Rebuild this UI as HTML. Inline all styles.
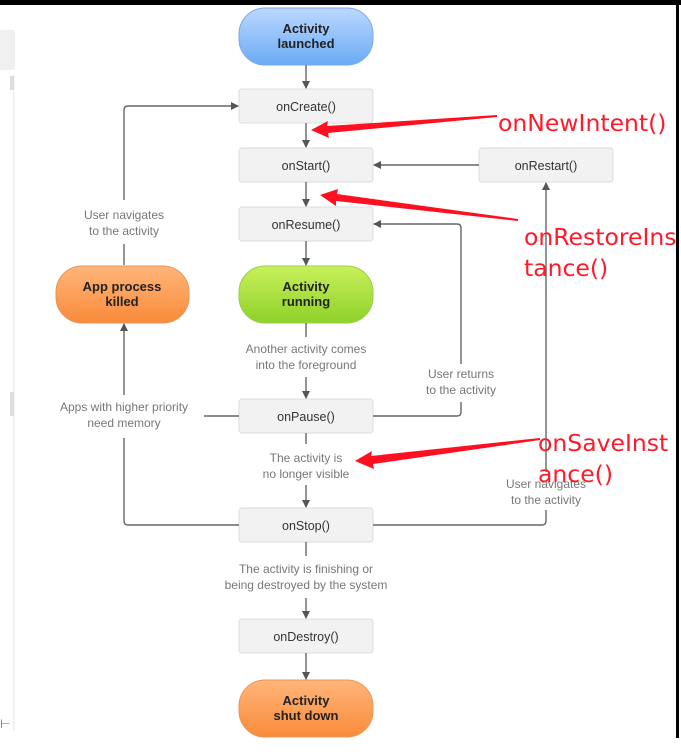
<!DOCTYPE html>
<html><head><meta charset="utf-8"><style>
html,body{margin:0;padding:0;background:#fff;width:681px;height:755px;overflow:hidden}
svg{display:block}
.b{fill:#f2f2f2;stroke:#dcdcdc;stroke-width:1}
.t{font-family:"Liberation Sans",sans-serif;font-size:12.5px;fill:#333;text-anchor:middle}
.g{font-family:"Liberation Sans",sans-serif;font-size:12px;fill:#777;text-anchor:middle}
.p{font-family:"Liberation Sans",sans-serif;font-size:13px;font-weight:bold;fill:#222;text-anchor:middle}
.l{fill:none;stroke:#666;stroke-width:1.4}
.r{font-family:"DejaVu Sans",sans-serif;font-size:23.5px;fill:#ff1a2a}
</style></head><body>
<svg width="681" height="755" viewBox="0 0 681 755">
<defs>
<marker id="a" markerWidth="8" markerHeight="8" refX="7" refY="4" orient="auto" markerUnits="userSpaceOnUse"><path d="M0,0 L8,4 L0,8 z" fill="#555"/></marker>
<linearGradient id="blue" x1="0" y1="0" x2="0" y2="1"><stop offset="0" stop-color="#bcd9ff"/><stop offset="1" stop-color="#6aaaf5"/></linearGradient>
<linearGradient id="green" x1="0" y1="0" x2="0" y2="1"><stop offset="0" stop-color="#c8f05a"/><stop offset="1" stop-color="#8fd12a"/></linearGradient>
<linearGradient id="orange" x1="0" y1="0" x2="0" y2="1"><stop offset="0" stop-color="#ffb57a"/><stop offset="1" stop-color="#f98b3a"/></linearGradient>
</defs>
<rect x="0" y="0" width="681" height="5" fill="#000"/>
<rect x="676" y="0" width="3" height="738" fill="#000"/>
<rect x="0" y="30" width="15" height="40" fill="#f0f0f0"/>
<rect x="13" y="75" width="1.5" height="655" fill="#eee"/>
<rect x="10" y="76" width="4" height="14" fill="#ddd"/>
<rect x="10" y="392" width="4" height="24" fill="#ddd"/>
<text x="0" y="728" font-family="Liberation Sans" font-size="12" fill="#666">⊢</text>

<rect x="239" y="8" width="134" height="57" rx="26" fill="url(#blue)" stroke="#7aaae8"/>
<text class="p" x="306" y="33">Activity</text><text class="p" x="306" y="48">launched</text>
<rect x="239" y="266" width="134" height="57" rx="26" fill="url(#green)" stroke="#9ccc50"/>
<text class="p" x="306" y="291">Activity</text><text class="p" x="306" y="306">running</text>
<rect x="56" y="266" width="133" height="57" rx="26" fill="url(#orange)" stroke="#e8955a"/>
<text class="p" x="122" y="291">App process</text><text class="p" x="122" y="306">killed</text>
<rect x="239" y="680" width="134" height="57" rx="26" fill="url(#orange)" stroke="#e8955a"/>
<text class="p" x="306" y="705">Activity</text><text class="p" x="306" y="720">shut down</text>

<rect class="b" x="239" y="89" width="134" height="34" rx="3"/><text class="t" x="306" y="111">onCreate()</text>
<rect class="b" x="239" y="148" width="134" height="34" rx="3"/><text class="t" x="306" y="170">onStart()</text>
<rect class="b" x="239" y="207" width="134" height="34" rx="3"/><text class="t" x="306" y="229">onResume()</text>
<rect class="b" x="479" y="148" width="134" height="34" rx="3"/><text class="t" x="546" y="170">onRestart()</text>
<rect class="b" x="239" y="399" width="134" height="34" rx="3"/><text class="t" x="306" y="421">onPause()</text>
<rect class="b" x="239" y="508" width="134" height="34" rx="3"/><text class="t" x="306" y="530">onStop()</text>
<rect class="b" x="239" y="619" width="134" height="34" rx="3"/><text class="t" x="306" y="641">onDestroy()</text>

<path class="l" d="M306 65 V88" marker-end="url(#a)"/>
<path class="l" d="M306 123 V147" marker-end="url(#a)"/>
<path class="l" d="M306 182 V206" marker-end="url(#a)"/>
<path class="l" d="M306 241 V265" marker-end="url(#a)"/>
<path class="l" d="M306 323 V337"/>
<path class="l" d="M306 377 V398" marker-end="url(#a)"/>
<path class="l" d="M306 433 V444"/>
<path class="l" d="M306 485 V507" marker-end="url(#a)"/>
<path class="l" d="M306 542 V556"/>
<path class="l" d="M306 598 V618" marker-end="url(#a)"/>
<path class="l" d="M306 653 V679" marker-end="url(#a)"/>

<text class="g" x="306" y="353">Another activity comes</text><text class="g" x="306" y="369">into the foreground</text>
<text class="g" x="306" y="462">The activity is</text><text class="g" x="306" y="478">no longer visible</text>
<text class="g" x="306" y="573">The activity is finishing or</text><text class="g" x="306" y="589">being destroyed by the system</text>

<path class="l" d="M124 200 V110 Q124 106 128 106 H238" marker-end="url(#a)"/>
<text class="g" x="124" y="219">User navigates</text><text class="g" x="124" y="235">to the activity</text>
<path class="l" d="M124 244 V265"/>
<path class="l" d="M124 395 V324" marker-end="url(#a)"/>
<text class="g" x="124" y="411">Apps with higher priority</text><text class="g" x="124" y="427">need memory</text>
<path class="l" d="M204 416 H239"/>
<path class="l" d="M124 438 V521 Q124 525 128 525 H239"/>

<path class="l" d="M479 165 H374" marker-end="url(#a)"/>
<path class="l" d="M373 416 H457 Q461 416 461 412 V402"/>
<text class="g" x="461" y="378">User returns</text><text class="g" x="461" y="394">to the activity</text>
<path class="l" d="M461 364 V228 Q461 224 457 224 H374" marker-end="url(#a)"/>
<path class="l" d="M373 525 H542 Q546 525 546 521 V510"/>
<text class="g" x="546" y="488">User navigates</text><text class="g" x="546" y="504">to the activity</text>
<path class="l" d="M546 472 V183" marker-end="url(#a)"/>

<polygon points="311,130 328,121 327,126 497,115 497,117 328,133 329,138" fill="#ff1020"/>
<polygon points="320,195 338,189 337,194 518,219 518,221 336,201 336,206" fill="#ff1020"/>
<polygon points="355,461 372,451 371,456 540,438 540,440 373,464 374,469" fill="#ff1020"/>
<text class="r" x="498" y="131">onNewIntent()</text>
<text class="r" x="524" y="245">onRestoreIns</text><text class="r" x="524" y="276">tance()</text>
<text class="r" x="538" y="451">onSaveInst</text><text class="r" x="538" y="482">ance()</text>
</svg>
</body></html>
